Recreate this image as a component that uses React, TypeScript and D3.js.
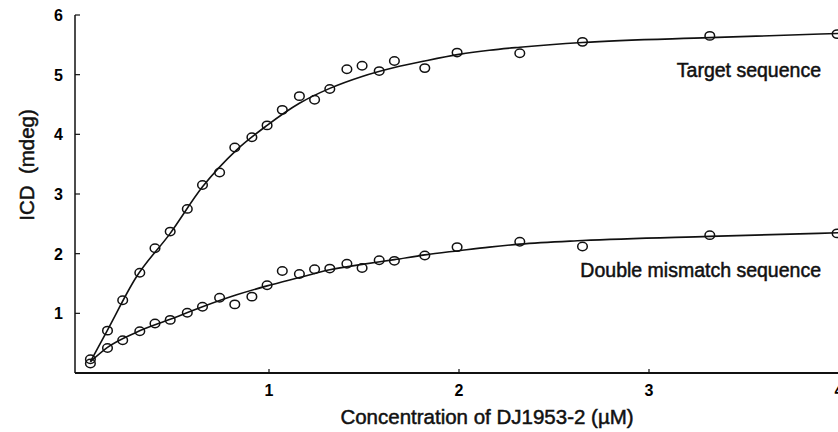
import React, { useEffect, useRef } from 'react';
import * as d3 from 'd3';

// concentrations (uM) shared by both series
const conc = [0.06, 0.15, 0.23, 0.32, 0.40, 0.48, 0.57, 0.65, 0.74, 0.82, 0.91, 0.99, 1.07,
    1.16, 1.24, 1.32, 1.41, 1.49, 1.58, 1.66, 1.82, 1.99, 2.32, 2.65, 3.32, 3.99];

const targetIcd = [0.23, 0.71, 1.22, 1.68, 2.09, 2.37, 2.75, 3.15, 3.36, 3.78, 3.95, 4.15, 4.41,
    4.64, 4.58, 4.76, 5.09, 5.15, 5.06, 5.23, 5.11, 5.37, 5.36, 5.55, 5.65, 5.68];

const mismatchIcd = [0.16, 0.42, 0.55, 0.70, 0.83, 0.89, 1.01, 1.11, 1.26, 1.15, 1.28, 1.47, 1.71,
    1.66, 1.74, 1.75, 1.83, 1.76, 1.89, 1.88, 1.97, 2.11, 2.20, 2.12, 2.31, 2.34];

// fitted curves
const fitX = [0.06, 0.15, 0.30, 0.48, 0.65, 0.83, 0.99, 1.16, 1.32, 1.49, 1.66, 1.82, 2.0, 2.16, 2.32, 2.65, 3.32, 4.0];
const targetFit = [0.19, 0.72, 1.6, 2.34, 3.12, 3.74, 4.15, 4.52, 4.77, 4.97, 5.12, 5.23, 5.34, 5.41, 5.46, 5.54, 5.62, 5.69];
const mismatchFit = [0.19, 0.43, 0.68, 0.9, 1.11, 1.31, 1.46, 1.6, 1.73, 1.82, 1.9, 1.98, 2.05, 2.11, 2.16, 2.22, 2.29, 2.35];

const xTicks = [1, 2, 3, 4];
const yTicks = [1, 2, 3, 4, 5, 6];

const W = 838;
const H = 432;

const App = () => {
    const svgRef = useRef(null);

    useEffect(() => {
        const svg = d3.select(svgRef.current);
        svg.selectAll('*').remove();

        const x = d3.scaleLinear().domain([0, 4]).range([79, 839]);
        const y = d3.scaleLinear().domain([0, 6]).range([373, 15]);
        const axisLeftX = 75;

        const font = 'Liberation Sans, Arial, sans-serif';

        // axis lines
        svg.append('line')
            .attr('x1', axisLeftX).attr('x2', axisLeftX)
            .attr('y1', y(6)).attr('y2', y(0))
            .attr('stroke', '#111').attr('stroke-width', 1.5);
        svg.append('line')
            .attr('x1', axisLeftX).attr('x2', W)
            .attr('y1', y(0)).attr('y2', y(0))
            .attr('stroke', '#111').attr('stroke-width', 1.8);

        // y ticks point inward
        const yg = svg.append('g');
        yg.selectAll('line').data(yTicks).enter().append('line')
            .attr('x1', axisLeftX).attr('x2', axisLeftX + 5)
            .attr('y1', d => y(d)).attr('y2', d => y(d))
            .attr('stroke', '#111').attr('stroke-width', 1.2);
        yg.selectAll('text').data(yTicks).enter().append('text')
            .attr('x', 63).attr('y', d => y(d) + 6)
            .attr('text-anchor', 'end')
            .attr('font-family', font).attr('font-weight', 'bold').attr('font-size', 16)
            .text(d => d);

        const xg = svg.append('g');
        xg.selectAll('line').data(xTicks).enter().append('line')
            .attr('x1', d => x(d)).attr('x2', d => x(d))
            .attr('y1', y(0)).attr('y2', y(0) - 4)
            .attr('stroke', '#111').attr('stroke-width', 1.2);
        xg.selectAll('text').data(xTicks).enter().append('text')
            .attr('x', d => x(d)).attr('y', 396)
            .attr('text-anchor', 'middle')
            .attr('font-family', font).attr('font-weight', 'bold').attr('font-size', 16)
            .text(d => d);

        // heavier look of the scanned labels
        const label = (sel) => sel
            .attr('font-family', font)
            .attr('fill', '#111')
            .attr('stroke', '#111')
            .attr('stroke-width', 0.5);

        // axis titles
        svg.append('text')
            .attr('x', 487).attr('y', 424)
            .attr('text-anchor', 'middle')
            .attr('font-size', 20.5)
            .call(label)
            .text('Concentration of DJ1953-2 (\u00b5M)');
        svg.append('text')
            .attr('transform', `translate(34,165) rotate(-90)`)
            .attr('text-anchor', 'middle')
            .attr('font-size', 20.5)
            .attr('xml:space', 'preserve')
            .style('white-space', 'pre')
            .call(label)
            .text('ICD  (mdeg)');

        // fitted curves
        const line = d3.line()
            .x(d => x(d[0]))
            .y(d => y(d[1]))
            .curve(d3.curveMonotoneX);

        [targetFit, mismatchFit].forEach(fit => {
            svg.append('path')
                .datum(fitX.map((c, i) => [c, fit[i]]))
                .attr('fill', 'none')
                .attr('stroke', '#111')
                .attr('stroke-width', 1.6)
                .attr('d', line);
        });

        // data points
        [targetIcd, mismatchIcd].forEach((vals, k) => {
            svg.append('g').selectAll('ellipse')
                .data(conc.map((c, i) => [c, vals[i]]))
                .enter()
                .append('ellipse')
                .attr('class', k === 0 ? 'target' : 'mismatch')
                .attr('cx', d => x(d[0]))
                .attr('cy', d => y(d[1]))
                .attr('rx', 4.8)
                .attr('ry', 4.2)
                .attr('fill', 'none')
                .attr('stroke', '#111')
                .attr('stroke-width', 1.5);
        });

        // series labels
        svg.append('text')
            .attr('x', 821).attr('y', 77)
            .attr('text-anchor', 'end')
            .attr('font-size', 19.5)
            .call(label)
            .text('Target sequence');
        svg.append('text')
            .attr('x', 821).attr('y', 277)
            .attr('text-anchor', 'end')
            .attr('font-size', 19.5)
            .call(label)
            .text('Double mismatch sequence');

    }, []);

    return (
        <svg ref={svgRef} width={W} height={H}
            style={{ position: 'absolute', left: 0, top: 0, background: '#fff' }} />
    );
};

export default App;
